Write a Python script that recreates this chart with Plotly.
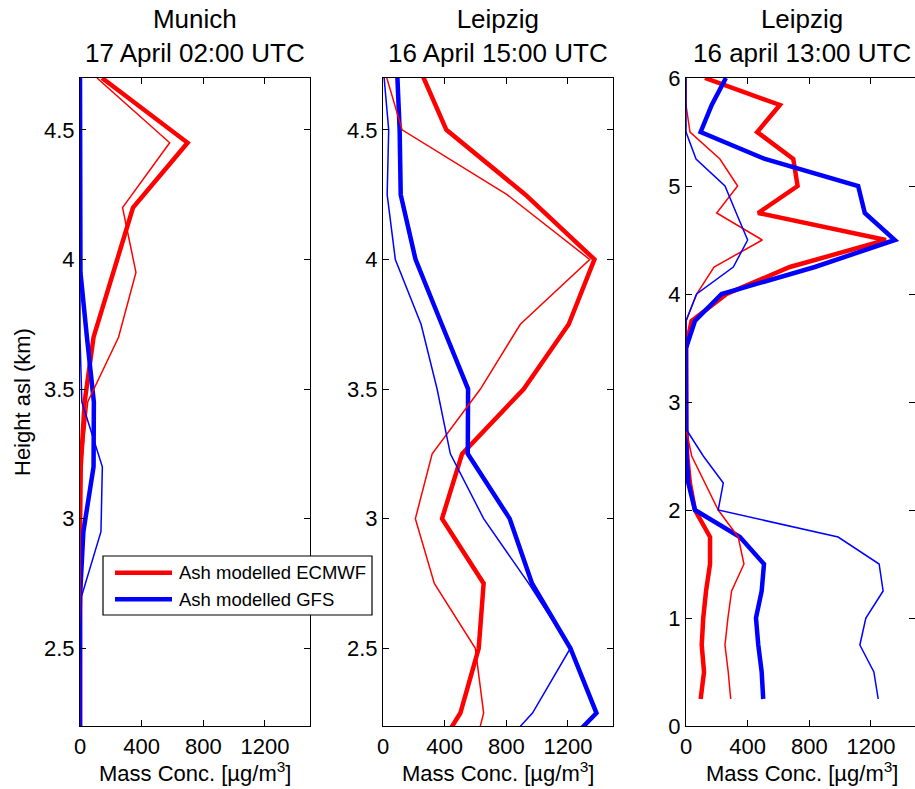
import plotly.graph_objects as go

# ---------------- data ----------------
# Munich, 17 April 02:00 UTC
h_munich = [4.7, 4.45, 4.2, 3.95, 3.7, 3.45, 3.2, 2.95, 2.7, 2.45, 2.2]
mun_ecmwf_thick = [143, 698, 344, 216, 88, 30, 5, 0, 0, 0, 0]
mun_ecmwf_thin = [110, 582, 276, 363, 250, 50, 8, 0, 0, 0, 0]
mun_gfs_thick = [0, 0, 0, 3, 45, 90, 88, 22, 0, 0, 0]
mun_gfs_thin = [0, 0, 0, 0, 0, 12, 145, 136, 10, 0, 0]

# Leipzig, 16 April 15:00 UTC
h_leip15 = [4.75, 4.5, 4.25, 4.0, 3.75, 3.5, 3.25, 3.0, 2.75, 2.5, 2.25, 2.0]
l15_ecmwf_thick = [227, 411, 924, 1372, 1205, 913, 513, 383, 653, 621, 502, 240]
l15_ecmwf_thin = [0, 124, 805, 1341, 891, 632, 319, 210, 333, 599, 653, 545]
l15_gfs_thick = [90, 108, 115, 211, 381, 552, 550, 822, 967, 1216, 1385, 975]
l15_gfs_thin = [0, 37, 27, 80, 247, 351, 437, 653, 945, 1216, 970, 585]

# Leipzig, 16 April 13:00 UTC
h_leip13 = [6.0, 5.75, 5.5, 5.25, 5.0, 4.75, 4.5, 4.25, 4.0, 3.75, 3.5, 3.25,
            3.0, 2.75, 2.5, 2.25, 2.0, 1.75, 1.5, 1.25, 1.0, 0.75, 0.5, 0.25]
l13_ecmwf_thick = [123, 609, 462, 696, 724, 468, 1297, 674, 263, 36, 0, 0,
                   0, 0, 8, 25, 58, 156, 156, 130, 112, 102, 117, 95]
l13_ecmwf_thin = [0, 0, 26, 220, 335, 199, 495, 182, 69, 0, 0, 0,
                  0, 0, 37, 123, 209, 339, 376, 296, 272, 253, 274, 290]
l13_gfs_thick = [259, 167, 95, 512, 1117, 1160, 1355, 836, 231, 58, 0, 0,
                 0, 0, 3, 15, 58, 350, 506, 491, 454, 469, 491, 501]
l13_gfs_thin = [0, 0, 0, 65, 253, 326, 400, 307, 69, 0, 0, 0,
                0, 0, 112, 242, 209, 987, 1253, 1279, 1167, 1128, 1219, 1247]

titles = ["Munich<br>17 April 02:00 UTC",
          "Leipzig<br>16 April 15:00 UTC",
          "Leipzig<br>16 april 13:00 UTC"]
legend_names = ["Ash modelled ECMWF", "Ash modelled GFS"]
x_ticks = [0, 400, 800, 1200]
x_title = "Mass Conc. [µg/m<sup>3</sup>]"
y_title = "Height asl (km)"

RED = "#ff0000"
BLUE = "#0000ff"
FONT = "Liberation Sans, Arial, Helvetica, sans-serif"

W, H = 915, 789
fig = go.Figure()

panels = [
    (h_munich, mun_ecmwf_thick, mun_gfs_thick, mun_ecmwf_thin, mun_gfs_thin, "x", "y"),
    (h_leip15, l15_ecmwf_thick, l15_gfs_thick, l15_ecmwf_thin, l15_gfs_thin, "x2", "y2"),
    (h_leip13, l13_ecmwf_thick, l13_gfs_thick, l13_ecmwf_thin, l13_gfs_thin, "x3", "y3"),
]

for i, (h, et, gt, en, gn, xa, ya) in enumerate(panels):
    fig.add_trace(go.Scatter(x=et, y=h, mode="lines", line=dict(color=RED, width=4.5),
                             name=legend_names[0], showlegend=False, xaxis=xa, yaxis=ya))
    fig.add_trace(go.Scatter(x=gt, y=h, mode="lines", line=dict(color=BLUE, width=4.5),
                             name=legend_names[1], showlegend=False, xaxis=xa, yaxis=ya))
    fig.add_trace(go.Scatter(x=en, y=h, mode="lines", line=dict(color=RED, width=1.5),
                             showlegend=False, xaxis=xa, yaxis=ya))
    fig.add_trace(go.Scatter(x=gn, y=h, mode="lines", line=dict(color=BLUE, width=1.5),
                             showlegend=False, xaxis=xa, yaxis=ya))

px_per_unit = 61.65 / 400.0
x_domains = [(80, 310), (383, 613), (686, W)]
y_dom = [1 - 726 / H, 1 - 78 / H]

common_axis = dict(showline=True, linecolor="black", linewidth=1.2, mirror="ticks",
                   ticks="inside", ticklen=6, tickwidth=1, tickcolor="black",
                   showgrid=False, zeroline=False, automargin=False,
                   tickfont=dict(family=FONT, size=22, color="black"))

layout_axes = {}
for i, (a, b) in enumerate(x_domains):
    key = "xaxis" if i == 0 else f"xaxis{i+1}"
    yk = "yaxis" if i == 0 else f"yaxis{i+1}"
    xmax = (b - a) / px_per_unit
    layout_axes[key] = dict(common_axis, domain=[a / W, b / W], range=[0, xmax],
                            tickvals=x_ticks, anchor="y" if i == 0 else f"y{i+1}")
    if i < 2:
        layout_axes[yk] = dict(common_axis, domain=y_dom, range=[2.2, 4.7],
                               tickvals=[2.5, 3, 3.5, 4, 4.5],
                               anchor="x" if i == 0 else f"x{i+1}")
    else:
        layout_axes[yk] = dict(common_axis, domain=y_dom, range=[0, 6],
                               tickvals=[0, 1, 2, 3, 4, 5, 6], anchor=f"x{i+1}")

annotations = []
for i, (a, b) in enumerate(x_domains):
    bb = b if i < 2 else a + 1500 * px_per_unit
    cx = (a + bb) / 2 / W
    annotations.append(dict(text=titles[i], x=cx, y=1 - 36 / H, xref="paper", yref="paper",
                            xanchor="center", yanchor="middle", showarrow=False,
                            font=dict(family=FONT, size=26, color="black")))
    annotations.append(dict(text=x_title, x=cx, y=1 - 772 / H, xref="paper", yref="paper",
                            xanchor="center", yanchor="middle", showarrow=False,
                            font=dict(family=FONT, size=22, color="black")))
annotations.append(dict(text=y_title, x=22 / W, y=1 - 402 / H, xref="paper", yref="paper",
                        xanchor="center", yanchor="middle", showarrow=False, textangle=-90,
                        font=dict(family=FONT, size=22, color="black")))

# legend box (drawn in paper coordinates like the original MATLAB legend)
leg_left, leg_right, leg_top, leg_bottom = 103, 372, 556, 615
leg_rows = [572.7, 599.3]
leg_colors = [RED, BLUE]
shapes = [dict(type="rect", xref="paper", yref="paper",
               x0=leg_left / W, x1=leg_right / W, y0=1 - leg_bottom / H, y1=1 - leg_top / H,
               line=dict(color="black", width=1.2), fillcolor="white", layer="above")]
for name, yy, col in zip(legend_names, leg_rows, leg_colors):
    shapes.append(dict(type="line", xref="paper", yref="paper",
                       x0=115 / W, x1=172 / W, y0=1 - yy / H, y1=1 - yy / H,
                       line=dict(color=col, width=4.5), layer="above"))
    annotations.append(dict(text=name, x=177 / W, y=1 - yy / H, xref="paper", yref="paper",
                            xanchor="left", yanchor="middle", showarrow=False,
                            font=dict(family=FONT, size=18.5, color="black")))

fig.update_layout(
    width=W, height=H,
    margin=dict(l=0, r=0, t=0, b=0),
    paper_bgcolor="white", plot_bgcolor="white",
    showlegend=False,
    annotations=annotations,
    shapes=shapes,
    **layout_axes,
)

fig.write_html("out.html")
